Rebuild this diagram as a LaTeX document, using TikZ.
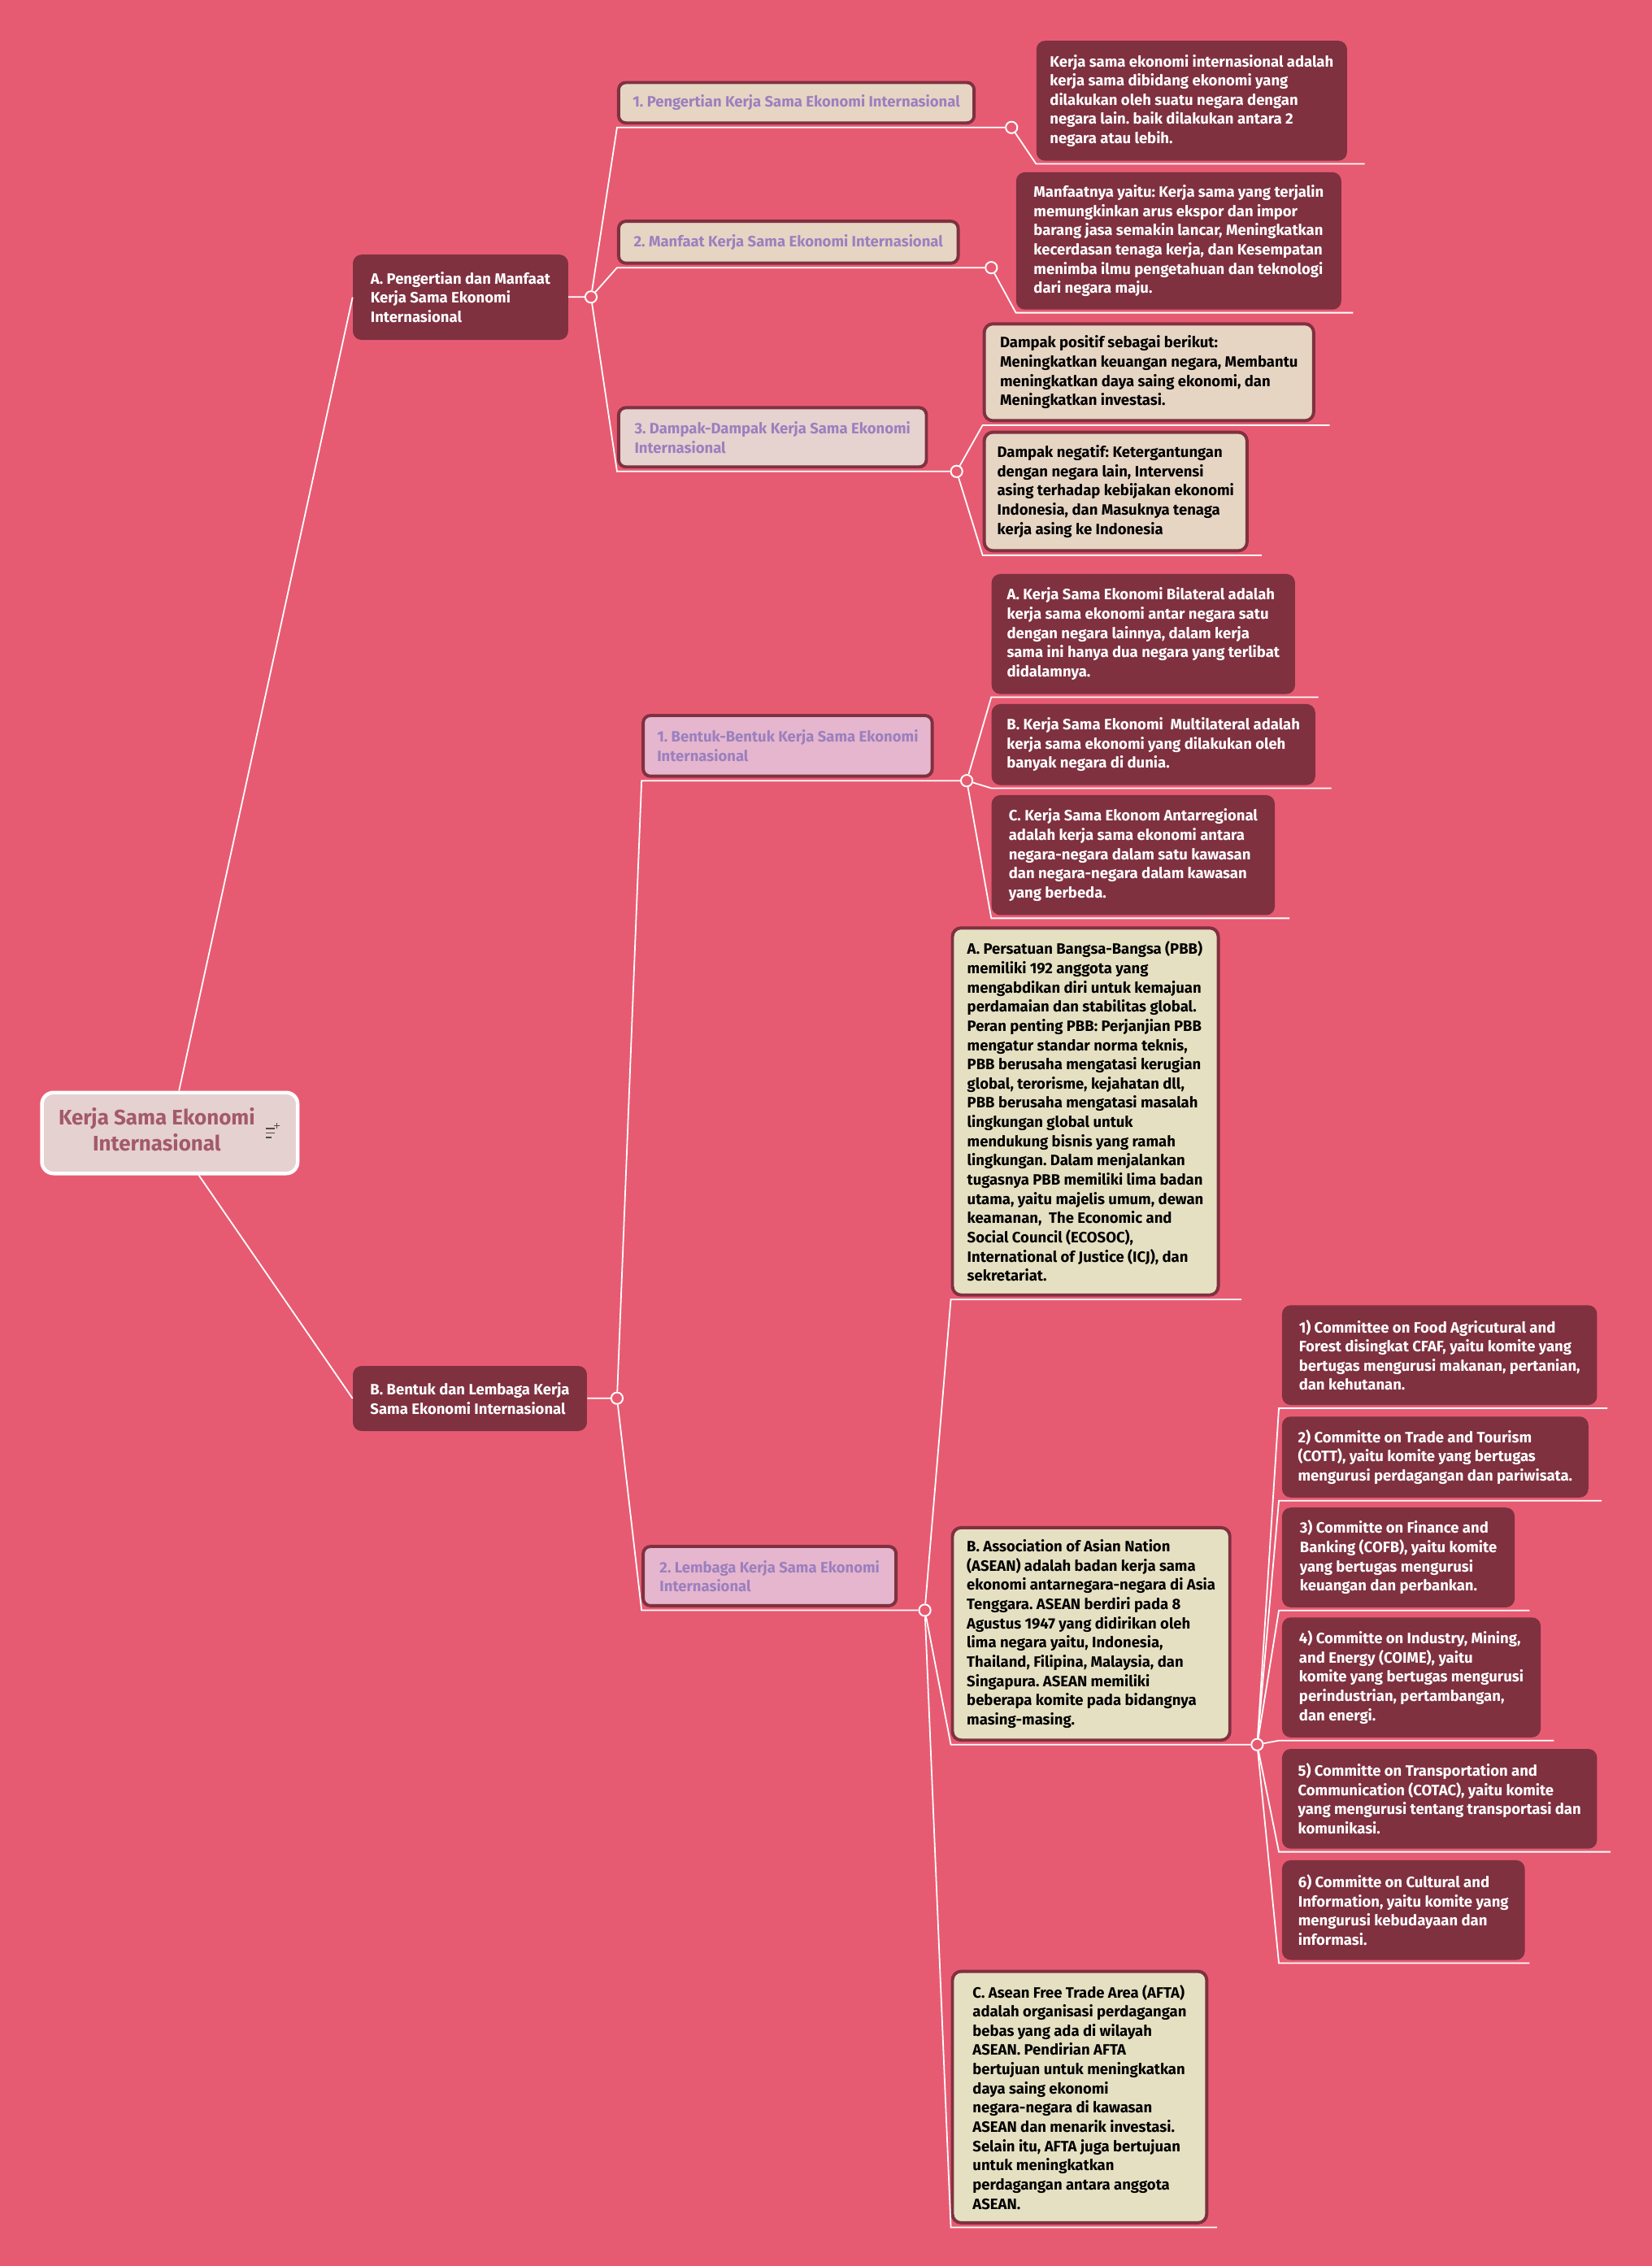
\documentclass[tikz,border=0pt]{standalone}
\usepackage{fontspec}
\setmainfont{Fira Sans}
\frenchspacing
\definecolor{kbg}{HTML}{E75B72}
\definecolor{kdark}{HTML}{7F3140}
\definecolor{kbeige}{HTML}{E6D5C3}
\definecolor{krose}{HTML}{E6D2CF}
\definecolor{klilac}{HTML}{E5B6CD}
\definecolor{kkhaki}{HTML}{E6E0C2}
\definecolor{kpurple}{HTML}{9B80BF}
\definecolor{kroot}{HTML}{E6D1D1}
\definecolor{kroottext}{HTML}{A35A6B}
\tikzset{
  rootbox/.style={draw=white, line width=2.5pt, fill=kroot, rounded corners=8pt,
    minimum width=177pt, minimum height=56pt, text=kroottext,
    font=\bfseries\fontsize{14.6}{18}\selectfont},
  topicbox/.style={fill=kdark, rounded corners=6pt, anchor=north west, align=left,
    inner xsep=9pt, text=white, font=\bfseries\fontsize{10.4}{13.3}\selectfont},
  subbox/.style={draw=kdark, line width=2.2pt, rounded corners=5pt, anchor=north west,
    align=left, inner xsep=7pt, text=kpurple, font=\bfseries\fontsize{10.4}{13.3}\selectfont},
  darkbox/.style={fill=kdark, rounded corners=6pt, anchor=north west, align=left,
    inner xsep=9pt, text=white, font=\bfseries\fontsize{10.4}{13.3}\selectfont},
  lightbox/.style={draw=kdark, line width=2.2pt, rounded corners=6pt, anchor=north west,
    align=left, inner xsep=9pt, text=black, font=\bfseries\fontsize{10.4}{13.3}\selectfont},
  knot/.style={circle, draw=white, fill=kbg, line width=1.1pt, inner sep=0pt, minimum size=8pt},
  link/.style={draw=white, line width=1pt},
}
\begin{document}
\begin{tikzpicture}[x=1pt, y=-1pt]
  \fill[kbg] (0,0) rectangle (1143,1568);
  \useasboundingbox (0,0) rectangle (1143,1568);

  % root
  \node[rootbox] (root) at (117.5,784)
    {\begin{tabular}{@{}c@{}}Kerja Sama Ekonomi\\Internasional\end{tabular}\hspace*{18pt}};
  \draw[black!70, line width=0.9pt] (184,781) -- (190,781) (184,784) -- (190,784) (184,787) -- (188,787)
    (191.5,777) -- (191.5,781) (189.5,779) -- (193.5,779);

  % first level
  \node[topicbox, minimum width=149pt, minimum height=59pt] (A) at (244,176)
    {A. Pengertian dan Manfaat\\Kerja Sama Ekonomi\\Internasional};
  \node[topicbox, minimum width=162pt, minimum height=45pt] (B) at (244,945)
    {B. Bentuk dan Lembaga Kerja\\Sama Ekonomi Internasional};
  \node[knot] (cA) at (409,205.5) {};
  \node[knot] (cB) at (427,967.5) {};

  \draw[link] (root) -- (A.west);
  \draw[link] (root) -- (B.west);
  \draw[link] (A) -- (cA);
  \draw[link] (B) -- (cB);

  % A: pengertian dan manfaat
  \node[subbox, fill=kbeige, minimum width=246pt, minimum height=28pt] (A1) at (427,56)
    {1. Pengertian Kerja Sama Ekonomi Internasional};
  \node[subbox, fill=kbeige, minimum width=235pt, minimum height=29pt] (A2) at (427,152)
    {2. Manfaat Kerja Sama Ekonomi Internasional};
  \node[subbox, fill=krose, minimum width=213pt, minimum height=41pt] (A3) at (427,281)
    {3. Dampak-Dampak Kerja Sama Ekonomi\\Internasional};
  \node[knot, yshift=-2pt] (cA1) at (A1.south west -| 700,0) {};
  \node[knot, yshift=-2pt] (cA2) at (A2.south west -| 686,0) {};
  \node[knot, yshift=-2pt] (cA3) at (A3.south west -| 662,0) {};

  \node[darkbox, minimum width=215pt, minimum height=83pt] (defn) at (717,28)
    {Kerja sama ekonomi internasional adalah\\kerja sama dibidang ekonomi yang\\dilakukan oleh suatu negara dengan\\negara lain. baik dilakukan antara 2\\negara atau lebih.};
  \node[darkbox, minimum width=225pt, minimum height=95pt] (benefit) at (703,119)
    {Manfaatnya yaitu: Kerja sama yang terjalin\\memungkinkan arus ekspor dan impor\\barang jasa semakin lancar, Meningkatkan\\kecerdasan tenaga kerja, dan Kesempatan\\menimba ilmu pengetahuan dan teknologi\\dari negara maju.};
  \node[lightbox, fill=kbeige, minimum width=228pt, minimum height=67pt] (plus) at (680,223)
    {Dampak positif sebagai berikut:\\Meningkatkan keuangan negara, Membantu\\meningkatkan daya saing ekonomi, dan\\Meningkatkan investasi.};
  \node[lightbox, fill=kbeige, minimum width=181pt, minimum height=82pt] (minus) at (680,298)
    {Dampak negatif: Ketergantungan\\dengan negara lain, Intervensi\\asing terhadap kebijakan ekonomi\\Indonesia, dan Masuknya tenaga\\kerja asing ke Indonesia};

  \draw[link] (cA) -- ([yshift=-2pt]A1.south west) -- (cA1);
  \draw[link] (cA) -- ([yshift=-2pt]A2.south west) -- (cA2);
  \draw[link] (cA) -- ([yshift=-2pt]A3.south west) -- (cA3);
  \draw[link] (cA1) -- ([yshift=-2pt]defn.south west) -- ([xshift=12pt, yshift=-2pt]defn.south east);
  \draw[link] (cA2) -- ([yshift=-2pt]benefit.south west) -- ([xshift=8pt, yshift=-2pt]benefit.south east);
  \draw[link] (cA3) -- ([yshift=-2pt]plus.south west) -- ([xshift=10pt, yshift=-2pt]plus.south east);
  \draw[link] (cA3) -- ([yshift=-2pt]minus.south west) -- ([xshift=9pt, yshift=-2pt]minus.south east);

  % B: bentuk dan lembaga
  \node[subbox, fill=klilac, minimum width=200pt, minimum height=42pt] (B1) at (444,494)
    {1. Bentuk-Bentuk Kerja Sama Ekonomi\\Internasional};
  \node[subbox, fill=klilac, minimum width=175pt, minimum height=41pt] (B2) at (444,1069)
    {2. Lembaga Kerja Sama Ekonomi\\Internasional};
  \node[knot, yshift=-2pt] (cB1) at (B1.south west -| 669,0) {};
  \node[knot, yshift=-2pt] (cB2) at (B2.south west -| 640,0) {};

  \node[darkbox, minimum width=210pt, minimum height=83pt] (bilat) at (686,397)
    {A. Kerja Sama Ekonomi Bilateral adalah\\kerja sama ekonomi antar negara satu\\dengan negara lainnya, dalam kerja\\sama ini hanya dua negara yang terlibat\\didalamnya.};
  \node[darkbox, minimum width=224pt, minimum height=56pt] (multi) at (686,487)
    {B. Kerja Sama Ekonomi\ \ Multilateral adalah\\kerja sama ekonomi yang dilakukan oleh\\banyak negara di dunia.};
  \node[darkbox, minimum width=196pt, minimum height=83pt] (region) at (686,550)
    {C. Kerja Sama Ekonom Antarregional\\adalah kerja sama ekonomi antara\\negara-negara dalam satu kawasan\\dan negara-negara dalam kawasan\\yang berbeda.};

  \draw[link] (cB) -- ([yshift=-2pt]B1.south west) -- (cB1);
  \draw[link] (cB) -- ([yshift=-2pt]B2.south west) -- (cB2);
  \draw[link] (cB1) -- ([yshift=-2pt]bilat.south west) -- ([xshift=16pt, yshift=-2pt]bilat.south east);
  \draw[link] (cB1) -- ([yshift=-2pt]multi.south west) -- ([xshift=11pt, yshift=-2pt]multi.south east);
  \draw[link] (cB1) -- ([yshift=-2pt]region.south west) -- ([xshift=10pt, yshift=-2pt]region.south east);

  \node[lightbox, fill=kkhaki, minimum width=184pt, minimum height=254pt] (pbb) at (658,641)
    {A. Persatuan Bangsa-Bangsa (PBB)\\memiliki 192 anggota yang\\mengabdikan diri untuk kemajuan\\perdamaian dan stabilitas global.\\Peran penting PBB: Perjanjian PBB\\mengatur standar norma teknis,\\PBB berusaha mengatasi kerugian\\global, terorisme, kejahatan dll,\\PBB berusaha mengatasi masalah\\lingkungan global untuk\\mendukung bisnis yang ramah\\lingkungan. Dalam menjalankan\\tugasnya PBB memiliki lima badan\\utama, yaitu majelis umum, dewan\\keamanan,\ \ The Economic and\\Social Council (ECOSOC),\\International of Justice (ICJ), dan\\sekretariat.};
  \node[lightbox, fill=kkhaki, minimum width=192pt, minimum height=147pt] (asean) at (658,1056)
    {B. Association of Asian Nation\\(ASEAN) adalah badan kerja sama\\ekonomi antarnegara-negara di Asia\\Tenggara. ASEAN berdiri pada 8\\Agustus 1947 yang didirikan oleh\\lima negara yaitu, Indonesia,\\Thailand, Filipina, Malaysia, dan\\Singapura. ASEAN memiliki\\beberapa komite pada bidangnya\\masing-masing.};
  \node[lightbox, fill=kkhaki, minimum width=176pt, minimum height=174pt] (afta) at (658,1363)
    {C. Asean Free Trade Area (AFTA)\\adalah organisasi perdagangan\\bebas yang ada di wilayah\\ASEAN. Pendirian AFTA\\bertujuan untuk meningkatkan\\daya saing ekonomi\\negara-negara di kawasan\\ASEAN dan menarik investasi.\\Selain itu, AFTA juga bertujuan\\untuk meningkatkan\\perdagangan antara anggota\\ASEAN.};
  \node[knot, yshift=-2pt] (cAS) at (asean.south west -| 870,0) {};

  \draw[link] (cB2) -- ([yshift=-2pt]pbb.south west) -- ([xshift=15pt, yshift=-2pt]pbb.south east);
  \draw[link] (cB2) -- ([yshift=-2pt]asean.south west) -- (cAS);
  \draw[link] (cB2) -- ([yshift=-2pt]afta.south west) -- ([xshift=6pt, yshift=-2pt]afta.south east);

  % ASEAN committees
  \node[darkbox, minimum width=218pt, minimum height=69pt] (cfaf) at (887,903)
    {1) Committee on Food Agricutural and\\Forest disingkat CFAF, yaitu komite yang\\bertugas mengurusi makanan, pertanian,\\dan kehutanan.};
  \node[darkbox, minimum width=212pt, minimum height=56pt] (cott) at (887,980)
    {2) Committe on Trade and Tourism\\(COTT), yaitu komite yang bertugas\\mengurusi perdagangan dan pariwisata.};
  \node[darkbox, minimum width=161pt, minimum height=69pt] (cofb) at (887,1043)
    {3) Committe on Finance and\\Banking (COFB), yaitu komite\\yang bertugas mengurusi\\keuangan dan perbankan.};
  \node[darkbox, minimum width=179pt, minimum height=83pt] (coime) at (887,1119)
    {4) Committe on Industry, Mining,\\and Energy (COIME), yaitu\\komite yang bertugas mengurusi\\perindustrian, pertambangan,\\dan energi.};
  \node[darkbox, minimum width=218pt, minimum height=69pt] (cotac) at (887,1210)
    {5) Committe on Transportation and\\Communication (COTAC), yaitu komite\\yang mengurusi tentang transportasi dan\\komunikasi.};
  \node[darkbox, minimum width=168pt, minimum height=69pt] (cci) at (887,1287)
    {6) Committe on Cultural and\\Information, yaitu komite yang\\mengurusi kebudayaan dan\\informasi.};

  \foreach \k/\ext in {cfaf/7, cott/9, cofb/10, coime/9, cotac/9, cci/3}
    \draw[link] (cAS) -- ([xshift=-2pt, yshift=-2pt]\k.south west) -- ([xshift=\ext pt, yshift=-2pt]\k.south east);
\end{tikzpicture}
\end{document}
